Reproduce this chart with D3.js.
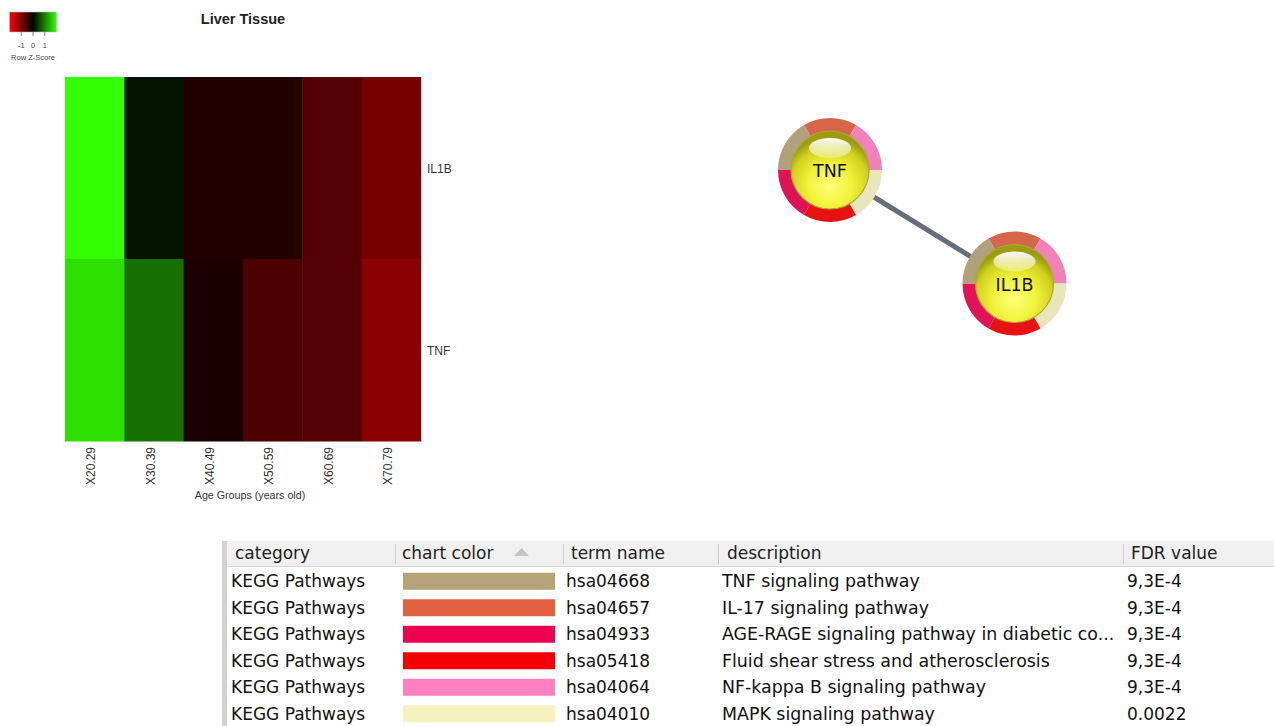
<!DOCTYPE html>
<html><head><meta charset="utf-8">
<script src="https://cdn.jsdelivr.net/npm/d3@7"></script>
<style>body{margin:0;background:#fff}</style>
</head><body>
<svg id="c" width="1274" height="726"></svg>
<script>
// ---------- data ----------
const genes = ["IL1B", "TNF"];
const ageGroups = ["X20.29", "X30.39", "X40.49", "X50.59", "X60.69", "X70.79"];
const zIL1B = [2.0, 0.15, -0.27, -0.27, -0.67, -0.94];
const zTNF = [1.76, 0.88, -0.22, -0.60, -0.67, -1.09];
const keyTicks = [-1, 0, 1];

const nodeNames = ["TNF", "IL1B"];
const nodeLayoutX = [0, 1];
const nodeLayoutY = [0, 1];
const edges = [["TNF", "IL1B"]];

const columnHeaders = ["category", "chart color", "term name", "description", "FDR value"];
const categories = ["KEGG Pathways", "KEGG Pathways", "KEGG Pathways", "KEGG Pathways", "KEGG Pathways", "KEGG Pathways"];
const chartColors = ["#b5a37a", "#e0603f", "#ee0050", "#f50000", "#ff80c0", "#f5f2c0"];
const termNames = ["hsa04668", "hsa04657", "hsa04933", "hsa05418", "hsa04064", "hsa04010"];
const descriptions = ["TNF signaling pathway", "IL-17 signaling pathway",
  "AGE-RAGE signaling pathway in diabetic co...", "Fluid shear stress and atherosclerosis",
  "NF-kappa B signaling pathway", "MAPK signaling pathway"];
const fdrValues = ["9,3E-4", "9,3E-4", "9,3E-4", "9,3E-4", "9,3E-4", "0.0022"];
// clockwise ring order starting at top
const ringOrder = ["hsa04657", "hsa04064", "hsa04010", "hsa05418", "hsa04933", "hsa04668"];

// ---------- setup ----------
const svg = d3.select("#c");
const defs = svg.append("defs");
const rowsZ = [zIL1B, zTNF];
const cells = [];
genes.forEach((g, i) => ageGroups.forEach((a, j) => cells.push({ g, a, z: rowsZ[i][j] })));

const color = d3.scaleLinear().domain([-2, 0, 2]).range(["#ff0000", "#000000", "#33ff00"]).clamp(true);

// ---------- heatmap ----------
const x = d3.scaleBand().domain(ageGroups).range([65, 421]);
const y = d3.scaleBand().domain(genes).range([77, 441]);
const hm = svg.append("g");
hm.selectAll("rect").data(cells).join("rect")
  .attr("x", d => x(d.a)).attr("y", d => y(d.g))
  .attr("width", x.bandwidth() + 0.5).attr("height", y.bandwidth() + 0.5)
  .attr("fill", d => color(d.z));
hm.append("line").attr("x1", 421.5).attr("x2", 421.5).attr("y1", 77).attr("y2", 441)
  .attr("stroke", "#ccc").attr("stroke-width", 1);

const lf = "Liberation Sans, Arial, sans-serif";
hm.selectAll("text.row").data(genes).join("text").attr("class", "row")
  .attr("x", 427).attr("y", d => y(d) + y.bandwidth() / 2 + 5)
  .attr("font-family", lf).attr("font-size", 12).attr("fill", "#333").text(d => d);
hm.selectAll("text.col").data(ageGroups).join("text").attr("class", "col")
  .attr("transform", d => `translate(${x(d) + x.bandwidth() / 2 + 0.5},447) rotate(-90)`)
  .attr("text-anchor", "end")
  .attr("font-family", lf).attr("font-size", 12).attr("fill", "#333").text(d => d);
svg.append("text").attr("x", 250).attr("y", 499).attr("text-anchor", "middle")
  .attr("font-family", lf).attr("font-size", 10.7).attr("fill", "#333").text("Age Groups (years old)");
svg.append("text").attr("x", 243).attr("y", 24).attr("text-anchor", "middle")
  .attr("font-family", lf).attr("font-size", 14.5).attr("font-weight", "bold").attr("fill", "#222").text("Liver Tissue");

// key
const kx = d3.scaleLinear().domain([-2, 2]).range([9.5, 56.5]);
const kg = defs.append("linearGradient").attr("id", "keyg").attr("x1", 0).attr("x2", 1).attr("y1", 0).attr("y2", 0);
kg.selectAll("stop").data(d3.range(0, 41)).join("stop")
  .attr("offset", i => i / 40).attr("stop-color", i => color(-2 + i / 10));
svg.append("rect").attr("x", 9.5).attr("y", 12).attr("width", 47).attr("height", 20)
  .attr("fill", "url(#keyg)").attr("stroke", "#bbb").attr("stroke-width", 0.6);
const kAxis = svg.append("g");
kAxis.selectAll("line").data(keyTicks).join("line")
  .attr("x1", d => kx(d)).attr("x2", d => kx(d)).attr("y1", 32).attr("y2", 36)
  .attr("stroke", "#666").attr("stroke-width", 0.8);
kAxis.selectAll("text").data(keyTicks).join("text")
  .attr("x", d => kx(d)).attr("y", 48).attr("text-anchor", "middle")
  .attr("font-family", lf).attr("font-size", 7.5).attr("fill", "#444").text(d => d);
svg.append("text").attr("x", 33).attr("y", 60).attr("text-anchor", "middle")
  .attr("font-family", lf).attr("font-size", 7.5).attr("fill", "#444").text("Row Z-Score");

// ---------- network ----------
const nx = d3.scaleLinear().domain([0, 1]).range([830, 1014.5]);
const ny = d3.scaleLinear().domain([0, 1]).range([170, 283.5]);
const nodes = nodeNames.map((n, i) => ({ n, x: nx(nodeLayoutX[i]), y: ny(nodeLayoutY[i]) }));
const nodeBy = Object.fromEntries(nodes.map(d => [d.n, d]));
const rg = defs.append("radialGradient").attr("id", "ball").attr("cx", "50%").attr("cy", "70%").attr("r", "62%");
[[0, "#ffff78"], [0.45, "#f2f23a"], [0.8, "#d2d21e"], [1, "#9c9c10"]].forEach(s =>
  rg.append("stop").attr("offset", s[0]).attr("stop-color", s[1]));
const hg = defs.append("linearGradient").attr("id", "hl").attr("x1", 0).attr("y1", 0).attr("x2", 0).attr("y2", 1);
hg.append("stop").attr("offset", 0).attr("stop-color", "#fff").attr("stop-opacity", 0.98);
hg.append("stop").attr("offset", 1).attr("stop-color", "#fff").attr("stop-opacity", 0.3);

svg.append("g").selectAll("line").data(edges).join("line")
  .attr("x1", d => nodeBy[d[0]].x).attr("y1", d => nodeBy[d[0]].y)
  .attr("x2", d => nodeBy[d[1]].x).attr("y2", d => nodeBy[d[1]].y)
  .attr("stroke", "#666e7c").attr("stroke-width", 5);

const colorByTerm = Object.fromEntries(termNames.map((t, i) => [t, chartColors[i]]));
const pie = d3.pie().sort(null).value(() => 1).startAngle(-Math.PI / 6).endAngle(2 * Math.PI - Math.PI / 6);
const arc = d3.arc().innerRadius(37).outerRadius(52);
const ng = svg.append("g").selectAll("g").data(nodes).join("g")
  .attr("transform", d => `translate(${d.x},${d.y})`);
ng.selectAll("path").data(pie(ringOrder)).join("path")
  .attr("d", arc).attr("fill", d => d3.interpolateRgb(colorByTerm[d.data], "#8c8c8c")(0.13));
ng.append("circle").attr("r", 39).attr("fill", "url(#ball)").attr("stroke", "#a9a93a").attr("stroke-width", 1.2);
ng.append("ellipse").attr("cx", 0).attr("cy", -22).attr("rx", 21).attr("ry", 10).attr("fill", "url(#hl)");
ng.append("text").attr("y", 7).attr("text-anchor", "middle")
  .attr("font-family", "DejaVu Sans, sans-serif").attr("font-size", 17.5).attr("fill", "#111").text(d => d.n);

// ---------- table ----------
const tf = "DejaVu Sans, sans-serif";
const tb = svg.append("g");
tb.append("rect").attr("x", 227).attr("y", 541).attr("width", 1047).attr("height", 25).attr("fill", "#f0f0f0");
tb.append("line").attr("x1", 227).attr("x2", 1274).attr("y1", 566.5).attr("y2", 566.5).attr("stroke", "#d6d6d6");
tb.append("rect").attr("x", 222).attr("y", 541).attr("width", 5).attr("height", 185).attr("fill", "#d2d2d2");
const sepX = [395, 563, 718, 1123];
tb.selectAll("line.sep").data(sepX).join("line").attr("class", "sep")
  .attr("x1", d => d + 0.5).attr("x2", d => d + 0.5).attr("y1", 544).attr("y2", 564).attr("stroke", "#cfcfcf");
const headerX = [235, 402, 571, 727, 1131];
tb.selectAll("text.h").data(columnHeaders).join("text").attr("class", "h")
  .attr("x", (d, i) => headerX[i]).attr("y", 559)
  .attr("font-family", tf).attr("font-size", 17).attr("fill", "#222").text(d => d);
tb.append("path").attr("d", "M514,556 L521.5,548 L529,556 Z").attr("fill", "#c4c4c4");

const ry = d3.scaleBand().domain(d3.range(termNames.length)).range([568, 727]);
const rows = tb.selectAll("g.r").data(d3.range(termNames.length)).join("g").attr("class", "r")
  .attr("transform", i => `translate(0,${ry(i)})`);
const rh = ry.bandwidth();
rows.append("text").attr("x", 231).attr("y", rh / 2 + 6).attr("font-family", tf).attr("font-size", 17).attr("fill", "#111")
  .text(i => categories[i]);
rows.append("rect").attr("x", 403).attr("y", rh / 2 - 8.5).attr("width", 152).attr("height", 17)
  .attr("fill", i => chartColors[i]);
rows.append("text").attr("x", 566).attr("y", rh / 2 + 6).attr("font-family", tf).attr("font-size", 17).attr("fill", "#111")
  .text(i => termNames[i]);
rows.append("text").attr("x", 722).attr("y", rh / 2 + 6).attr("font-family", tf).attr("font-size", 17.4).attr("fill", "#111")
  .text(i => descriptions[i]);
rows.append("text").attr("x", 1127).attr("y", rh / 2 + 6).attr("font-family", tf).attr("font-size", 17).attr("fill", "#111")
  .text(i => fdrValues[i]);
</script>
</body></html>
